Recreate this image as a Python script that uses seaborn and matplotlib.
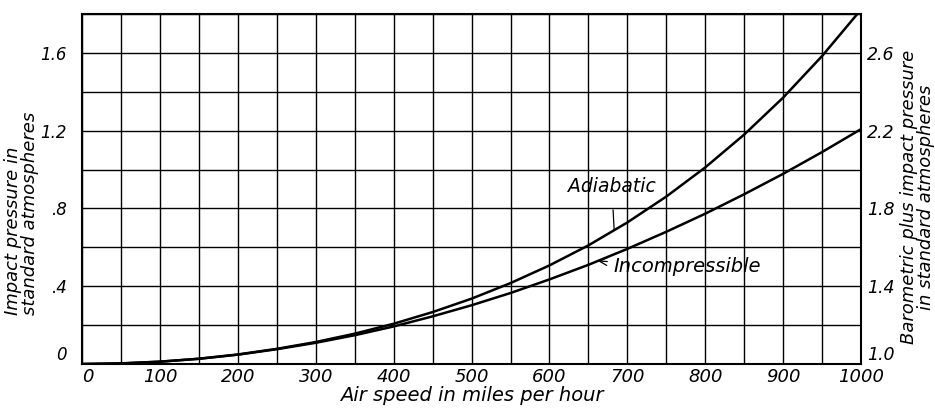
import numpy as np
import pandas as pd
import matplotlib
matplotlib.use('Agg')
import matplotlib.pyplot as plt
import seaborn as sns

# values (impact pressure, standard atmospheres)
speed_mph = [0, 50, 100, 150, 200, 250, 300, 350, 400, 450, 500,
             550, 600, 650, 700, 750, 800, 850, 900, 950, 1000]
adiabatic = [0, 0.003, 0.012, 0.027, 0.049, 0.078, 0.113, 0.156, 0.207, 0.267, 0.336,
             0.416, 0.507, 0.610, 0.728, 0.861, 1.011, 1.180, 1.370, 1.584, 1.823]
incompressible = [0, 0.003, 0.012, 0.027, 0.048, 0.076, 0.109, 0.148, 0.193, 0.245, 0.302,
                  0.365, 0.435, 0.510, 0.592, 0.680, 0.773, 0.873, 0.978, 1.090, 1.208]

x_ticks = [0, 100, 200, 300, 400, 500, 600, 700, 800, 900, 1000]
left_ticks = [0, 0.4, 0.8, 1.2, 1.6]
left_labels = ['0', '.4', '.8', '1.2', '1.6']
right_ticks = [1.0, 1.4, 1.8, 2.2, 2.6]
right_labels = ['1.0', '1.4', '1.8', '2.2', '2.6']

df = pd.DataFrame({'speed': speed_mph, 'Adiabatic': adiabatic,
                   'Incompressible': incompressible})

sns.set_style('white')
plt.rcParams['font.family'] = ['DejaVu Sans']
plt.rcParams['font.style'] = 'italic'
for key in ['text.color', 'axes.labelcolor', 'xtick.color', 'ytick.color']:
    plt.rcParams[key] = 'black'

fig = plt.figure(figsize=(9.35, 4.09), dpi=100)
ax = fig.add_axes([0.0877, 0.110, 0.8333, 0.856])

sns.lineplot(data=df, x='speed', y='Adiabatic', color='black', linewidth=1.8, ax=ax)
sns.lineplot(data=df, x='speed', y='Incompressible', color='black', linewidth=1.8, ax=ax)

ax.set_xlim(0, 1000)
ax.set_ylim(0, 1.8)
ax.set_xticks(np.arange(0, 1001, 50), minor=True)
ax.set_yticks(np.arange(0, 1.81, 0.2), minor=True)
ax.set_xticks(x_ticks)
ax.set_xticklabels([str(t) for t in x_ticks], fontsize=13)
ax.set_yticks(left_ticks)
ax.set_yticklabels(left_labels, fontsize=12)
ax.get_xticklabels()[0].set_ha('left')
ax.get_yticklabels()[0].set_va('bottom')
ax.grid(True, which='both', color='black', linewidth=1.0)
ax.tick_params(axis='y', which='both', length=0, pad=11)
ax.tick_params(axis='x', which='both', length=0, pad=3)
for s in ax.spines.values():
    s.set_color('black')
    s.set_linewidth(1.5)

ax.set_xlabel('Air speed in miles per hour', fontsize=14, labelpad=0)
ax.set_ylabel('Impact pressure in\nstandard atmospheres', fontsize=13,
              linespacing=0.95, multialignment='left')
ax.yaxis.label.set_va('center')
ax.yaxis.set_label_coords(-0.078, 0.43)

ax2 = ax.twinx()
ax2.set_ylim(1.0, 2.8)
ax2.set_yticks(right_ticks)
ax2.set_yticklabels(right_labels, fontsize=12.5)
ax2.get_yticklabels()[0].set_va('bottom')
ax2.tick_params(length=0, pad=4)
ax2.set_ylabel('Barometric plus impact pressure\nin standard atmospheres', fontsize=13,
               linespacing=0.9)
ax2.yaxis.label.set_va('center')
ax2.yaxis.set_label_coords(1.0725, 0.477)
for s in ax2.spines.values():
    s.set_visible(False)

ax.annotate('Adiabatic', xy=(683, 0.69), xytext=(680, 0.915),
            fontsize=13.5, ha='center', va='center',
            arrowprops=dict(arrowstyle='-', color='black', linewidth=0.9,
                            shrinkA=8, shrinkB=0))
ax.annotate('Incompressible', xy=(662, 0.53), xytext=(682, 0.50),
            fontsize=14, ha='left', va='center',
            arrowprops=dict(arrowstyle='->', color='black', linewidth=0.9,
                            shrinkA=2, shrinkB=0))

fig.savefig('out.png', dpi=100)
